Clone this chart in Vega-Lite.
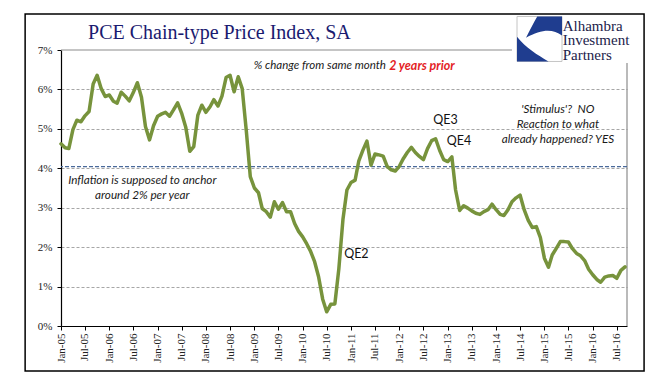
{
  "$schema": "https://vega.github.io/schema/vega-lite/v6.json",
  "width": 566,
  "height": 276,
  "autosize": {"type": "none"},
  "padding": {"left": 61, "top": 50, "right": 44, "bottom": 49},
  "background": "#ffffff",
  "config": {"view": {"stroke": null}},
  "resolve": {"axis": {"x": "independent", "y": "independent"}},
  "datasets": {
    "pce": [
      {"date": "2005-01-01", "pct": 4.62}, {"date": "2005-02-01", "pct": 4.52}, {"date": "2005-03-01", "pct": 4.50}, {"date": "2005-04-01", "pct": 4.98},
      {"date": "2005-05-01", "pct": 5.22}, {"date": "2005-06-01", "pct": 5.18}, {"date": "2005-07-01", "pct": 5.33}, {"date": "2005-08-01", "pct": 5.44},
      {"date": "2005-09-01", "pct": 6.14}, {"date": "2005-10-01", "pct": 6.36}, {"date": "2005-11-01", "pct": 6.02}, {"date": "2005-12-01", "pct": 5.82},
      {"date": "2006-01-01", "pct": 5.86}, {"date": "2006-02-01", "pct": 5.70}, {"date": "2006-03-01", "pct": 5.65}, {"date": "2006-04-01", "pct": 5.93},
      {"date": "2006-05-01", "pct": 5.83}, {"date": "2006-06-01", "pct": 5.71}, {"date": "2006-07-01", "pct": 5.92}, {"date": "2006-08-01", "pct": 6.17},
      {"date": "2006-09-01", "pct": 5.80}, {"date": "2006-10-01", "pct": 5.06}, {"date": "2006-11-01", "pct": 4.72}, {"date": "2006-12-01", "pct": 5.08},
      {"date": "2007-01-01", "pct": 5.32}, {"date": "2007-02-01", "pct": 5.38}, {"date": "2007-03-01", "pct": 5.42}, {"date": "2007-04-01", "pct": 5.32},
      {"date": "2007-05-01", "pct": 5.48}, {"date": "2007-06-01", "pct": 5.66}, {"date": "2007-07-01", "pct": 5.40}, {"date": "2007-08-01", "pct": 5.05},
      {"date": "2007-09-01", "pct": 4.43}, {"date": "2007-10-01", "pct": 4.55}, {"date": "2007-11-01", "pct": 5.35}, {"date": "2007-12-01", "pct": 5.60},
      {"date": "2008-01-01", "pct": 5.42}, {"date": "2008-02-01", "pct": 5.56}, {"date": "2008-03-01", "pct": 5.74}, {"date": "2008-04-01", "pct": 5.58},
      {"date": "2008-05-01", "pct": 5.83}, {"date": "2008-06-01", "pct": 6.30}, {"date": "2008-07-01", "pct": 6.36}, {"date": "2008-08-01", "pct": 5.94},
      {"date": "2008-09-01", "pct": 6.32}, {"date": "2008-10-01", "pct": 6.02}, {"date": "2008-11-01", "pct": 4.95}, {"date": "2008-12-01", "pct": 3.79},
      {"date": "2009-01-01", "pct": 3.50}, {"date": "2009-02-01", "pct": 3.38}, {"date": "2009-03-01", "pct": 2.98}, {"date": "2009-04-01", "pct": 2.90},
      {"date": "2009-05-01", "pct": 2.76}, {"date": "2009-06-01", "pct": 3.15}, {"date": "2009-07-01", "pct": 2.96}, {"date": "2009-08-01", "pct": 3.13},
      {"date": "2009-09-01", "pct": 2.90}, {"date": "2009-10-01", "pct": 2.90}, {"date": "2009-11-01", "pct": 2.60}, {"date": "2009-12-01", "pct": 2.40},
      {"date": "2010-01-01", "pct": 2.26}, {"date": "2010-02-01", "pct": 2.08}, {"date": "2010-03-01", "pct": 1.90}, {"date": "2010-04-01", "pct": 1.63},
      {"date": "2010-05-01", "pct": 1.25}, {"date": "2010-06-01", "pct": 0.68}, {"date": "2010-07-01", "pct": 0.36}, {"date": "2010-08-01", "pct": 0.55},
      {"date": "2010-09-01", "pct": 0.56}, {"date": "2010-10-01", "pct": 1.45}, {"date": "2010-11-01", "pct": 2.70}, {"date": "2010-12-01", "pct": 3.45},
      {"date": "2011-01-01", "pct": 3.64}, {"date": "2011-02-01", "pct": 3.70}, {"date": "2011-03-01", "pct": 4.19}, {"date": "2011-04-01", "pct": 4.46},
      {"date": "2011-05-01", "pct": 4.69}, {"date": "2011-06-01", "pct": 4.08}, {"date": "2011-07-01", "pct": 4.36}, {"date": "2011-08-01", "pct": 4.34},
      {"date": "2011-09-01", "pct": 4.31}, {"date": "2011-10-01", "pct": 4.05}, {"date": "2011-11-01", "pct": 3.96}, {"date": "2011-12-01", "pct": 3.93},
      {"date": "2012-01-01", "pct": 4.05}, {"date": "2012-02-01", "pct": 4.25}, {"date": "2012-03-01", "pct": 4.40}, {"date": "2012-04-01", "pct": 4.53},
      {"date": "2012-05-01", "pct": 4.40}, {"date": "2012-06-01", "pct": 4.30}, {"date": "2012-07-01", "pct": 4.22}, {"date": "2012-08-01", "pct": 4.50},
      {"date": "2012-09-01", "pct": 4.70}, {"date": "2012-10-01", "pct": 4.75}, {"date": "2012-11-01", "pct": 4.45}, {"date": "2012-12-01", "pct": 4.22},
      {"date": "2013-01-01", "pct": 4.17}, {"date": "2013-02-01", "pct": 4.29}, {"date": "2013-03-01", "pct": 3.45}, {"date": "2013-04-01", "pct": 2.93},
      {"date": "2013-05-01", "pct": 3.05}, {"date": "2013-06-01", "pct": 2.99}, {"date": "2013-07-01", "pct": 2.92}, {"date": "2013-08-01", "pct": 2.86},
      {"date": "2013-09-01", "pct": 2.83}, {"date": "2013-10-01", "pct": 2.90}, {"date": "2013-11-01", "pct": 2.95}, {"date": "2013-12-01", "pct": 3.09},
      {"date": "2014-01-01", "pct": 2.95}, {"date": "2014-02-01", "pct": 2.83}, {"date": "2014-03-01", "pct": 2.80}, {"date": "2014-04-01", "pct": 2.95},
      {"date": "2014-05-01", "pct": 3.15}, {"date": "2014-06-01", "pct": 3.25}, {"date": "2014-07-01", "pct": 3.32}, {"date": "2014-08-01", "pct": 2.95},
      {"date": "2014-09-01", "pct": 2.68}, {"date": "2014-10-01", "pct": 2.50}, {"date": "2014-11-01", "pct": 2.52}, {"date": "2014-12-01", "pct": 2.25},
      {"date": "2015-01-01", "pct": 1.72}, {"date": "2015-02-01", "pct": 1.49}, {"date": "2015-03-01", "pct": 1.80}, {"date": "2015-04-01", "pct": 1.97},
      {"date": "2015-05-01", "pct": 2.14}, {"date": "2015-06-01", "pct": 2.14}, {"date": "2015-07-01", "pct": 2.13}, {"date": "2015-08-01", "pct": 1.96},
      {"date": "2015-09-01", "pct": 1.84}, {"date": "2015-10-01", "pct": 1.78}, {"date": "2015-11-01", "pct": 1.66}, {"date": "2015-12-01", "pct": 1.44},
      {"date": "2016-01-01", "pct": 1.30}, {"date": "2016-02-01", "pct": 1.18}, {"date": "2016-03-01", "pct": 1.11}, {"date": "2016-04-01", "pct": 1.24},
      {"date": "2016-05-01", "pct": 1.27}, {"date": "2016-06-01", "pct": 1.28}, {"date": "2016-07-01", "pct": 1.21}, {"date": "2016-08-01", "pct": 1.41},
      {"date": "2016-09-01", "pct": 1.50}
    ]
  },
  "layer": [
    {
      "mark": {"type": "rect", "fillOpacity": 0, "stroke": "#000000", "strokeWidth": 1.5, "clip": false},
      "data": {"values": [{"frame": "border"}]},
      "encoding": {
        "x": {"datum": {"year": 2004, "month": 4, "date": 5, "utc": true}, "type": "temporal", "axis": null},
        "x2": {"datum": {"year": 2017, "month": 1, "date": 23, "utc": true}},
        "y": {"datum": 7.913, "type": "quantitative", "axis": null},
        "y2": {"datum": -1.14}
      }
    },
    {
      "mark": {"type": "rule", "stroke": "#8c8c8c", "strokeWidth": 1.2},
      "data": {"values": [{"edge": "top"}]},
      "encoding": {
        "x": {"datum": {"year": 2005, "month": 1, "date": 1, "utc": true}, "type": "temporal", "axis": null},
        "x2": {"datum": {"year": 2014, "month": 5, "date": 1, "utc": true}},
        "y": {"datum": 7, "type": "quantitative", "axis": null}
      }
    },
    {
      "mark": {"type": "rule", "stroke": "#8c8c8c", "strokeWidth": 1.2},
      "data": {"values": [{"edge": "right"}]},
      "encoding": {
        "x": {"datum": {"year": 2016, "month": 9, "date": 16, "utc": true}, "type": "temporal", "axis": null},
        "y": {"datum": 0, "type": "quantitative", "axis": null},
        "y2": {"datum": 6.67}
      }
    },
    {
      "mark": {"type": "rule", "stroke": "#4a6a9a", "strokeWidth": 1.2, "strokeDash": [4, 2]},
      "data": {"values": [{"anchor": 4.04}]},
      "encoding": {
        "y": {"field": "anchor", "type": "quantitative", "axis": null}
      }
    },
    {
      "data": {"name": "pce"},
      "mark": {"type": "line", "color": "#77933c", "strokeWidth": 3.5, "strokeJoin": "round", "strokeCap": "round"},
      "encoding": {
        "x": {
          "field": "date",
          "type": "temporal",
          "scale": {"type": "utc", "domain": [{"year": 2005, "month": 1, "date": 1, "utc": true}, {"year": 2016, "month": 9, "date": 16, "utc": true}], "nice": false},
          "axis": {
            "title": null,
            "tickCount": {"interval": "month", "step": 6},
            "labelExpr": "utcFormat(datum.value, '%b-%y')",
            "labelAngle": 270,
            "labelAlign": "right",
            "labelBaseline": "middle",
            "labelFont": "Liberation Serif",
            "labelFontSize": 11,
            "labelColor": "#222222",
            "labelPadding": 3,
            "labelOverlap": false,
            "labelFlush": false,
            "tickSize": 4,
            "tickColor": "#000000",
            "domainColor": "#000000",
            "domainWidth": 1.2,
            "grid": false
          }
        },
        "y": {
          "field": "pct",
          "type": "quantitative",
          "scale": {"domain": [0, 7], "nice": false},
          "axis": {
            "title": null,
            "values": [0, 1, 2, 3, 4, 5, 6, 7],
            "labelExpr": "datum.value + '%'",
            "labelFont": "Liberation Serif",
            "labelFontSize": 11,
            "labelColor": "#222222",
            "labelPadding": 5,
            "labelOverlap": false,
            "tickSize": 4,
            "tickColor": "#000000",
            "domainColor": "#000000",
            "domainWidth": 1.2,
            "grid": true,
            "gridColor": "#a6a6a6",
            "gridDash": [3, 2],
            "gridOpacity": {"condition": {"test": "datum.value == 0 || datum.value == 7", "value": 0}, "value": 1}
          }
        }
      }
    },
    {
      "data": {"values": [{"label": "PCE Chain-type Price Index, SA", "date": "2005-07-24", "value": 7.29}]},
      "mark": {"type": "text", "align": "left", "baseline": "alphabetic", "font": "Liberation Serif", "fontSize": 20, "color": "#1a1a70"},
      "encoding": {
        "x": {"field": "date", "type": "temporal", "axis": null},
        "y": {"field": "value", "type": "quantitative", "axis": null},
        "text": {"field": "label"}
      }
    },
    {
      "data": {"values": [{"label": "% change from same month", "date": "2011-09-22", "value": 6.59}]},
      "mark": {"type": "text", "align": "right", "baseline": "middle", "font": "Lato", "fontStyle": "italic", "fontSize": 11.5, "color": "#1a1a1a"},
      "encoding": {
        "x": {"field": "date", "type": "temporal", "axis": null},
        "y": {"field": "value", "type": "quantitative", "axis": null},
        "text": {"field": "label"}
      }
    },
    {
      "data": {"values": [{"label": "2 years prior", "date": "2011-10-16", "value": 6.59}]},
      "mark": {"type": "text", "align": "left", "baseline": "middle", "font": "Lato", "fontStyle": "italic", "fontWeight": "bold", "fontSize": 12.5, "color": "#e41e26"},
      "encoding": {
        "x": {"field": "date", "type": "temporal", "axis": null},
        "y": {"field": "value", "type": "quantitative", "axis": null},
        "text": {"field": "label"}
      }
    },
    {
      "data": {"values": [
        {"label": "Inflation is supposed to anchor\naround 2% per year", "date": "2006-09-07", "value": 3.70},
        {"label": "'Stimulus'?\u00a0 NO\nReaction to what\nalready happened? YES", "date": "2015-04-13", "value": 5.50}
      ]},
      "mark": {"type": "text", "align": "center", "baseline": "middle", "lineBreak": "\n", "lineHeight": 14.8, "font": "Lato", "fontStyle": "italic", "fontSize": 11.7, "color": "#1a1a1a"},
      "encoding": {
        "x": {"field": "date", "type": "temporal", "axis": null},
        "y": {"field": "value", "type": "quantitative", "axis": null},
        "text": {"field": "label"}
      }
    },
    {
      "data": {"values": [
        {"label": "QE2", "date": "2010-11-10", "value": 1.83},
        {"label": "QE3", "date": "2012-09-13", "value": 5.22},
        {"label": "QE4", "date": "2012-12-25", "value": 4.70}
      ]},
      "mark": {"type": "text", "align": "left", "baseline": "middle", "font": "Lato", "fontSize": 12.5, "color": "#111111"},
      "encoding": {
        "x": {"field": "date", "type": "temporal", "axis": null},
        "y": {"field": "value", "type": "quantitative", "axis": null},
        "text": {"field": "label"}
      }
    },
    {
      "data": {"values": [{"logo": "box", "date": "2014-11-25", "value": 7.28}]},
      "mark": {"type": "point", "shape": "square", "size": 2025, "filled": true, "fill": "#ffffff", "stroke": "#c4c4c4", "strokeWidth": 1, "opacity": 1},
      "encoding": {
        "x": {"field": "date", "type": "temporal", "axis": null},
        "y": {"field": "value", "type": "quantitative", "axis": null}
      }
    },
    {
      "data": {"values": [{"logo": "swoosh", "date": "2014-11-25", "value": 7.28}]},
      "mark": {
        "type": "point",
        "shape": "M -0.1 -1 L 1 -1 L 1 -0.15 C 0.6 -0.45 0.1 -0.45 -0.6 -0.05 C -0.4 -0.45 -0.25 -0.75 -0.1 -1 Z M -1 1 L -1 -0.1 C -0.6 0.4 -0.1 0.7 0.4 1 Z",
        "size": 2025,
        "filled": true,
        "fill": "#1f3d8f",
        "strokeWidth": 0,
        "opacity": 1
      },
      "encoding": {
        "x": {"field": "date", "type": "temporal", "axis": null},
        "y": {"field": "value", "type": "quantitative", "axis": null}
      }
    },
    {
      "data": {"values": [{"label": "Alhambra\nInvestment\nPartners", "date": "2015-05-19", "value": 7.62}]},
      "mark": {"type": "text", "align": "left", "baseline": "middle", "lineBreak": "\n", "lineHeight": 14.5, "font": "Liberation Serif", "fontSize": 15, "color": "#22224a"},
      "encoding": {
        "x": {"field": "date", "type": "temporal", "axis": null},
        "y": {"field": "value", "type": "quantitative", "axis": null},
        "text": {"field": "label"}
      }
    }
  ]
}
